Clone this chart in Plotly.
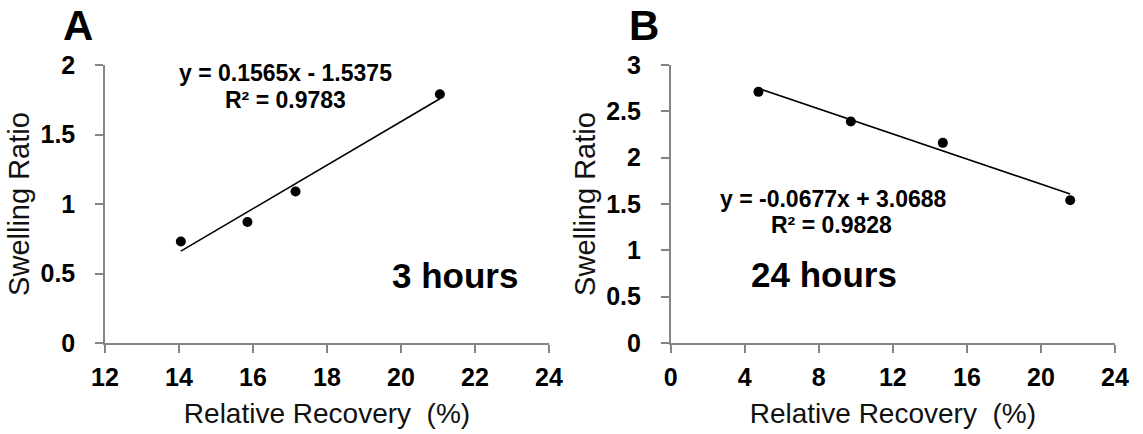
import plotly.graph_objects as go

# ---- data ----
a_recovery = [14.05, 15.85, 17.15, 21.05]
a_swelling = [0.73, 0.87, 1.09, 1.79]
a_slope, a_intercept = 0.1565, -1.5375
a_eq = "y = 0.1565x - 1.5375"
a_r2 = "R² = 0.9783"
a_label = "3 hours"

b_recovery = [4.74, 9.73, 14.70, 21.58]
b_swelling = [2.71, 2.39, 2.16, 1.54]
b_slope, b_intercept = -0.0677, 3.0688
b_eq = "y = -0.0677x + 3.0688"
b_r2 = "R² = 0.9828"
b_label = "24 hours"

a_xticks = [12, 14, 16, 18, 20, 22, 24]
b_xticks = [0, 4, 8, 12, 16, 20, 24]
a_yticks = [0, 0.5, 1, 1.5, 2]
b_yticks = [0, 0.5, 1, 1.5, 2, 2.5, 3]

x_title = "Relative Recovery  (%)"
y_title = "Swelling Ratio"

FONT = "Arial, Liberation Sans, sans-serif"
AXC = "#858585"

fig = go.Figure()

def trend(xs, m, c):
    x0, x1 = min(xs), max(xs)
    return [x0, x1], [m * x0 + c, m * x1 + c]

tx, ty = trend(a_recovery, a_slope, a_intercept)
fig.add_trace(go.Scatter(x=tx, y=ty, mode="lines", line=dict(color="black", width=1.6),
                         xaxis="x", yaxis="y", showlegend=False))
fig.add_trace(go.Scatter(x=a_recovery, y=a_swelling, mode="markers",
                         marker=dict(color="black", size=10), xaxis="x", yaxis="y", showlegend=False))
tx, ty = trend(b_recovery, b_slope, b_intercept)
fig.add_trace(go.Scatter(x=tx, y=ty, mode="lines", line=dict(color="black", width=1.6),
                         xaxis="x2", yaxis="y2", showlegend=False))
fig.add_trace(go.Scatter(x=b_recovery, y=b_swelling, mode="markers",
                         marker=dict(color="black", size=10), xaxis="x2", yaxis="y2", showlegend=False))

W, H = 1143, 434
ydom = [(H - 343) / H, (H - 65) / H]

def xaxis(dom, rng, ticks, anchor):
    return dict(domain=dom, range=rng, tickvals=ticks, anchor=anchor,
                showline=True, linecolor=AXC, linewidth=1.5, ticks="outside", ticklen=8,
                tickcolor=AXC, tickwidth=1.5, showgrid=False, zeroline=False,
                ticklabelstandoff=3,
                tickfont=dict(family=FONT, size=25, color="black", weight="bold"),
                title=dict(text=x_title, font=dict(family=FONT, size=28, color="#111"), standoff=14),
                automargin=False)

def yaxis(rng, ticks, anchor):
    return dict(domain=ydom, range=rng, tickvals=ticks, anchor=anchor,
                showline=True, linecolor=AXC, linewidth=1.5, ticks="outside", ticklen=8,
                tickcolor=AXC, tickwidth=1.5, showgrid=False, zeroline=False,
                ticklabelstandoff=15,
                tickfont=dict(family=FONT, size=25, color="black", weight="bold"),
                title=dict(text=y_title, font=dict(family=FONT, size=29, color="#111"), standoff=2),
                automargin=False)

fig.update_layout(
    width=W, height=H, margin=dict(l=0, r=0, t=0, b=0),
    paper_bgcolor="white", plot_bgcolor="white",
    xaxis=xaxis([105 / W, 549 / W], [12, 24], a_xticks, "y"),
    yaxis=yaxis([0, 2], a_yticks, "x"),
    xaxis2=xaxis([670.7 / W, 1115 / W], [0, 24], b_xticks, "y2"),
    yaxis2=yaxis([0, 3], b_yticks, "x2"),
)

def ann(text, x, y, size, xref="x", yref="y"):
    fig.add_annotation(text=text, x=x, y=y, xref=xref, yref=yref, showarrow=False,
                       xanchor="center", yanchor="middle",
                       font=dict(family=FONT, size=size, color="black", weight="bold"))

ann(a_eq, 16.89, 1.94, 23)
ann(a_r2, 16.89, 1.745, 23)
ann(a_label, 21.46, 0.489, 35)
ann(b_eq, 8.77, 1.557, 23, "x2", "y2")
ann(b_r2, 8.70, 1.273, 23, "x2", "y2")
ann(b_label, 8.29, 0.734, 35, "x2", "y2")
ann("A", 78 / W, (H - 25) / H, 42, "paper", "paper")
ann("B", 644 / W, (H - 25) / H, 42, "paper", "paper")

fig.write_html("out.html", config={"displayModeBar": False},
               post_script="document.body.style.margin='0';document.body.style.overflow='hidden';")
